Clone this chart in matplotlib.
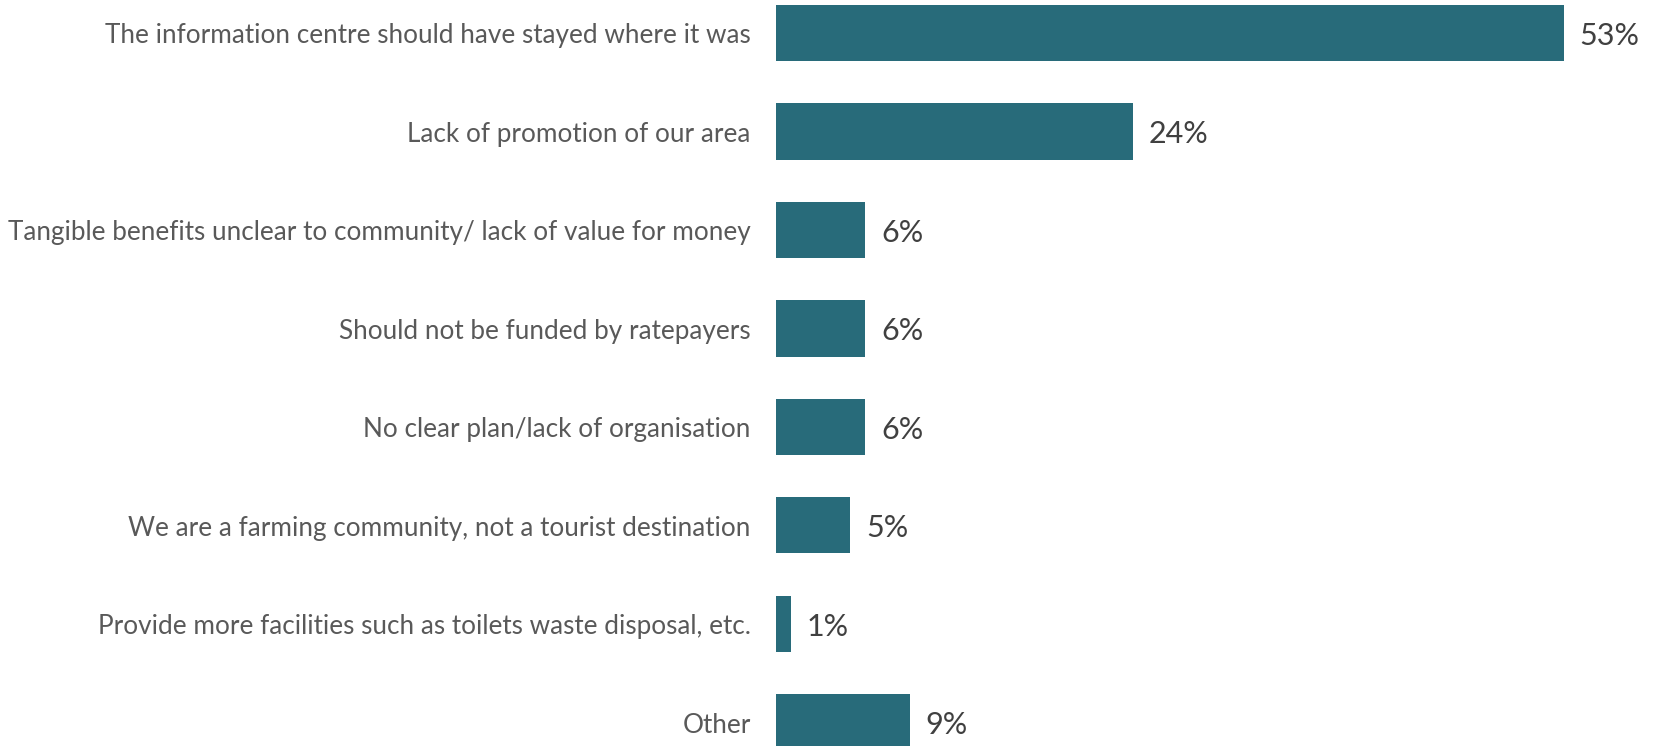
import matplotlib.pyplot as plt

categories = [
    'The information centre should have stayed where it was',
    'Lack of promotion of our area',
    'Tangible benefits unclear to community/ lack of value for money',
    'Should not be funded by ratepayers',
    'No clear plan/lack of organisation',
    'We are a farming community, not a tourist destination',
    'Provide more facilities such as toilets waste disposal, etc.',
    'Other',
]
values = [53, 24, 6, 6, 6, 5, 1, 9]

plt.rcParams['font.family'] = ['Lato', 'DejaVu Sans']

fig = plt.figure(figsize=(16.54, 7.46), dpi=100)
ax = fig.add_axes([0, 0, 1, 1])

ypos = list(range(len(categories)))
ax.barh(ypos, values, height=0.57, color='#286B7A')

for y, v in zip(ypos, values):
    ax.text(v + 1.05, y + 0.03, f'{v}%', va='center', ha='left', fontsize=22, color='#404040')

# category labels sit left of the bars (axes fills the whole figure)
for y, c in zip(ypos, categories):
    ax.text(-1.7, y + 0.03, c, va='center', ha='right', fontsize=18.8, color='#595959')

ax.set_xticks([])
ax.set_yticks([])

# place axis so bars start at ~776px and 53% ends at ~1564px
ax.set_xlim(-52.2, 59.05)
ax.set_ylim(7.24, -0.335)
for s in ax.spines.values():
    s.set_visible(False)

fig.savefig('out.png', dpi=100)
